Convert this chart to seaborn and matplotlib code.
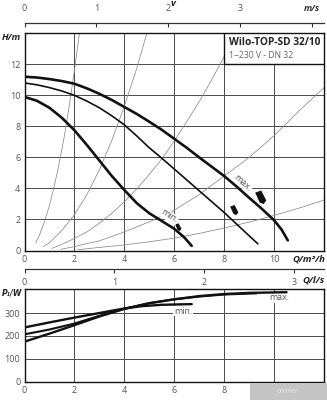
import numpy as np
import pandas as pd
import matplotlib
matplotlib.use("Agg")
import matplotlib.pyplot as plt
import seaborn as sns
from matplotlib.patches import Rectangle
from matplotlib.path import Path
from matplotlib.markers import MarkerStyle

# ---------------- data ----------------
# pump curves H(Q)
q_max = [0, 0.5, 1, 1.5, 2, 2.5, 3, 3.5, 4, 4.5, 5, 5.5, 6, 6.5, 7, 7.5, 8, 8.5, 9, 9.5, 10, 10.3, 10.55]
h_max = [11.2, 11.15, 11.05, 10.92, 10.75, 10.45, 10.1, 9.7, 9.25, 8.8, 8.3, 7.78, 7.2, 6.62, 6.0,
         5.4, 4.8, 4.12, 3.4, 2.7, 1.95, 1.35, 0.65]
q_mid = [0, 0.5, 1, 1.5, 2, 2.5, 3, 3.5, 4, 4.5, 5, 5.5, 6, 6.5, 7, 7.5, 8, 8.5, 9, 9.35]
h_mid = [10.8, 10.68, 10.5, 10.28, 10.0, 9.63, 9.2, 8.68, 8.1, 7.38, 6.62, 5.95, 5.25, 4.55, 3.85,
         3.15, 2.45, 1.7, 0.95, 0.43]
q_min = [0, 0.5, 1, 1.5, 2, 2.5, 3, 3.5, 4, 4.5, 5, 5.5, 6, 6.4, 6.7]
h_min = [9.9, 9.65, 9.2, 8.55, 7.75, 6.8, 5.8, 4.8, 3.9, 3.05, 2.4, 1.9, 1.4, 0.85, 0.3]

# system (pipe) curves
q_sys_a = [0.45, 0.6, 0.8, 1.0, 1.2, 1.4, 1.6, 1.8, 2.0, 2.2]
h_sys_a = [0.5, 1.0, 1.85, 2.9, 4.2, 5.7, 7.4, 9.4, 11.6, 14.0]
q_sys_b = [0.75, 1.0, 1.5, 2.0, 2.5, 3.0, 3.5, 4.0, 4.5, 4.9]
h_sys_b = [0.25, 0.5, 1.3, 2.3, 3.6, 5.2, 7.1, 9.3, 11.75, 14.0]
q_sys_c = [1.1, 1.5, 2, 2.5, 3, 3.5, 4, 4.5, 5, 5.5, 6, 6.5, 7, 7.5, 8.0, 8.45]
h_sys_c = [0.14, 0.4, 0.78, 1.2, 1.76, 2.4, 3.14, 3.97, 4.9, 5.9, 7.06, 8.3, 9.6, 11.0, 12.5, 14.0]
q_sys_d = [1.46, 2, 2.5, 3, 4, 5, 6, 7, 8, 9, 10, 11, 12]
h_sys_d = [0.08, 0.25, 0.45, 0.62, 1.2, 1.85, 2.6, 3.6, 4.8, 6.0, 7.4, 9.0, 10.5]
q_sys_e = [2.14, 3, 4, 5, 6, 7, 8, 9, 10, 11, 12]
h_sys_e = [0.05, 0.2, 0.36, 0.56, 0.8, 1.1, 1.45, 1.83, 2.26, 2.73, 3.25]

# operating-point markers (max, mid, min)
mark_q = [9.46, 8.4, 6.16]
mark_h = [3.42, 2.6, 1.5]

# power curves P1(Q)
pq_max = [0, 1, 2, 3, 4, 5, 6, 7, 8, 9, 10, 10.5]
p_max = [175, 210, 247, 285, 318, 343, 360, 374, 383, 388, 390, 391]
pq_mid = [0, 1, 2, 3, 4, 5, 6, 7, 8, 9, 9.3]
p_mid = [207, 228, 254, 288, 319, 343, 360, 372, 381, 385, 386]
pq_min = [0, 1, 2, 3, 4, 4.7, 5.5, 6.7]
p_min = [237, 259, 280, 300, 320, 330, 336, 339]

# tick labels
h_ticks = [0, 2, 4, 6, 8, 10, 12]
q_ticks = [0, 2, 4, 6, 8, 10]
p_q_labels = ["0", "2", "4", "6", "8", ""]
p_ticks = [0, 100, 200, 300]
v_ticks = [0, 1, 2, 3, 4]
v_labels = ["0", "1", "2", "3", "m/s"]
ls_ticks = [0, 1, 2, 3]

title_text = "Wilo-TOP-SD 32/10"
subtitle_text = "1~230 V - DN 32"

# ---------------- styling ----------------
sns.set_theme(style="white")
plt.rcParams["font.family"] = ["Open Sans", "DejaVu Sans"]
plt.rcParams["font.size"] = 6.5
TICK_C = "#555555"
GRID_C = "#4a4a4a"
SYS_C = "#8a8a8a"

W, H = 327, 400
fig = plt.figure(figsize=(W / 100, H / 100), dpi=100)


def fx(px):
    return px / W


def fy(py):
    return 1 - py / H


left, right = 24.5, 324
ax_h = fig.add_axes([fx(left), fy(250.5), fx(right - left), (250.5 - 33.3) / H])
ax_p = fig.add_axes([fx(left), fy(381.7), fx(right - left), (381.7 - 289) / H])

for ax in (ax_h, ax_p):
    ax.set_facecolor("white")
    for s in ax.spines.values():
        s.set_color("#111111")
        s.set_linewidth(1.0)
    ax.tick_params(axis="both", length=0, colors=TICK_C, labelsize=6.5, pad=3)
    ax.set_xlim(0, 12)

# ---- H plot ----
ax_h.set_ylim(0, 14)
ax_h.set_xticks(q_ticks)
ax_h.set_yticks(h_ticks)
for v in [2, 4, 6, 8, 10]:
    ax_h.axvline(v, color=GRID_C, lw=0.7, zorder=0.5)
for v in [2, 4, 6, 8, 10, 12]:
    ax_h.axhline(v, color=GRID_C, lw=0.7, zorder=0.5)

for qs, hs in [(q_sys_a, h_sys_a), (q_sys_b, h_sys_b), (q_sys_c, h_sys_c),
               (q_sys_d, h_sys_d), (q_sys_e, h_sys_e)]:
    sns.lineplot(x=qs, y=hs, ax=ax_h, color=SYS_C, lw=0.55, zorder=1)

sns.lineplot(x=q_max, y=h_max, ax=ax_h, color="#111111", lw=1.9, zorder=4)
sns.lineplot(x=q_mid, y=h_mid, ax=ax_h, color="#111111", lw=1.2, zorder=4)
sns.lineplot(x=q_min, y=h_min, ax=ax_h, color="#111111", lw=1.9, zorder=4)

verts = [(-0.82, 0.73), (0.09, 1.05), (0.86, -0.45), (0.45, -1.0), (-0.14, -0.77), (-0.82, 0.73)]
mpath = Path(verts, [Path.MOVETO] + [Path.LINETO] * 4 + [Path.CLOSEPOLY])
ax_h.scatter(mark_q, mark_h, s=[100, 55, 32], marker=MarkerStyle(mpath),
             color="#111111", zorder=5, linewidths=0)

ax_h.text(8.75, 4.35, "max.", rotation=-42, ha="center", va="center",
          color=TICK_C, fontsize=6.5, zorder=6,
          bbox=dict(fc="white", ec="none", pad=0.3))
ax_h.text(5.8, 2.2, "min.", rotation=-33, ha="center", va="center",
          color=TICK_C, fontsize=6.5, zorder=6,
          bbox=dict(fc="white", ec="none", pad=0.3))

ax_h.add_patch(Rectangle((8, 12), 4, 2, fc="white", ec="#111111", lw=1.0, zorder=3))
ax_h.text(8.18, 13.38, title_text, ha="left", va="center", fontsize=7.3,
          fontweight="bold", color="#222222", zorder=4)
ax_h.text(8.18, 12.6, subtitle_text, ha="left", va="center", fontsize=6.2,
          color="#666666", zorder=4)

# ---- P plot ----
ax_p.set_ylim(0, 405)
ax_p.set_xticks(q_ticks)
ax_p.set_xticklabels(p_q_labels)
ax_p.set_yticks(p_ticks)
for v in [2, 4, 6, 8, 10]:
    ax_p.axvline(v, color=GRID_C, lw=0.7, zorder=0.5)
for v in [100, 200, 300]:
    ax_p.axhline(v, color=GRID_C, lw=0.7, zorder=0.5)

ax_p.text(10.2, 367, "max.", ha="center", va="center", color=TICK_C, fontsize=6.3,
          zorder=2, bbox=dict(fc="white", ec="none", pad=0.5))
ax_p.text(6.35, 308, "min.", ha="center", va="center", color=TICK_C, fontsize=6.3,
          zorder=2, bbox=dict(fc="white", ec="none", pad=0.5))

sns.lineplot(x=pq_max, y=p_max, ax=ax_p, color="#111111", lw=1.7, zorder=4)
sns.lineplot(x=pq_mid, y=p_mid, ax=ax_p, color="#111111", lw=1.5, zorder=4)
sns.lineplot(x=pq_min, y=p_min, ax=ax_p, color="#111111", lw=1.7, zorder=4)

# ---- velocity axis (top) ----
ax_v = fig.add_axes([fx(left), fy(23.3), fx(right - left), 0.0001])
ax_v.set_facecolor("none")
for k, s in ax_v.spines.items():
    s.set_visible(k == "bottom")
ax_v.spines["bottom"].set_color("#333333")
ax_v.spines["bottom"].set_linewidth(0.9)
ax_v.set_xlim(0, 12 / 2.88)
ax_v.set_yticks([])
ax_v.set_xticks(v_ticks)
ax_v.set_xticklabels(v_labels)
ax_v.tick_params(axis="x", bottom=True, top=False, labelbottom=False, labeltop=True,
                 direction="out", length=3, width=0.8, color="#333333",
                 labelcolor=TICK_C, labelsize=6.5, pad=4.5)
last = ax_v.xaxis.get_major_ticks()[-1].label2
last.set_fontstyle("italic")
last.set_fontweight("bold")
last.set_color("#333333")

# ---- l/s axis (between plots) ----
ax_l = fig.add_axes([fx(left), fy(269.3), fx(right - left), 0.0001])
ax_l.set_facecolor("none")
for k, s in ax_l.spines.items():
    s.set_visible(k == "bottom")
ax_l.spines["bottom"].set_color("#333333")
ax_l.spines["bottom"].set_linewidth(0.9)
ax_l.set_xlim(0, 12 / 3.6)
ax_l.set_yticks([])
ax_l.set_xticks(ls_ticks)
ax_l.tick_params(axis="x", bottom=True, direction="out", length=3, width=0.8,
                 color="#333333", labelcolor=TICK_C, labelsize=6.5, pad=3)

# ---- axis titles ----
lbl = dict(fontstyle="italic", fontweight="bold", color="#222222", fontsize=6.8)
fig.text(fx(173), fy(6.5), "v", ha="center", va="baseline", **lbl)
fig.text(fx(21.5), fy(37.5), "H/m", ha="right", va="center", **lbl)
fig.text(fx(22.5), fy(293.3), "P\u2081/W", ha="right", va="center",
         fontfamily=["DejaVu Sans"], fontstyle="italic", fontweight="bold",
         color="#222222", fontsize=5.6)
fig.text(fx(325), fy(259), "Q/m\u00b3/h", ha="right", va="center", **lbl)
fig.text(fx(325), fy(280.5), "Q/l/s", ha="right", va="center", **lbl)

# ---- watermark box ----
fig.patches.append(Rectangle((fx(250), 0), fx(77), 17 / H, transform=fig.transFigure,
                             fc="#c4c4c4", ec="none", zorder=10))
fig.text(fx(288), 8.5 / H, "onliner", ha="center", va="center", color="white",
         alpha=0.6, fontsize=5, fontstyle="italic", zorder=11)

fig.savefig("out.png", dpi=100)
